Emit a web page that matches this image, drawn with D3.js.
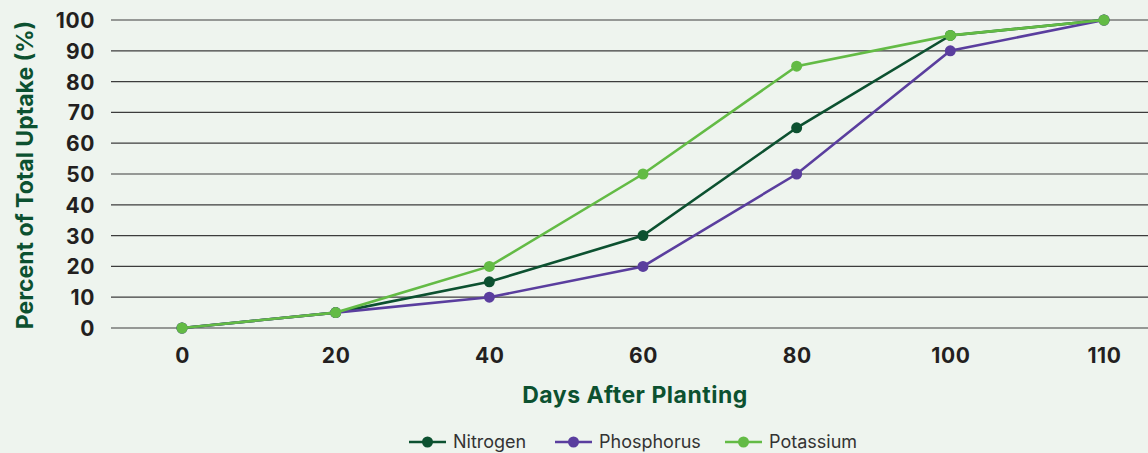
<!DOCTYPE html>
<html>
<head>
<meta charset="utf-8">
<script src="https://cdn.jsdelivr.net/npm/d3@7"></script>
<style>
  html, body { margin: 0; padding: 0; background: #eef4ee; }
  svg { display: block; font-family: Inter, "Noto Sans", sans-serif; }
</style>
</head>
<body>
<svg id="chart" width="1148" height="453"></svg>
<script>
// Nutrient uptake over the growing season (percent of total)
const days = ["0", "20", "40", "60", "80", "100", "110"];
const nitrogen = [0, 5, 15, 30, 65, 95, 100];
const phosphorus = [0, 5, 10, 20, 50, 90, 100];
const potassium = [0, 5, 20, 50, 85, 95, 100];
const yTicks = [0, 10, 20, 30, 40, 50, 60, 70, 80, 90, 100];

const series = [
  { name: "Nitrogen", values: nitrogen, color: "#0c5130" },
  { name: "Phosphorus", values: phosphorus, color: "#5a3e9e" },
  { name: "Potassium", values: potassium, color: "#63bb45" }
];

const svg = d3.select("#chart");
const W = 1148;

const x = d3.scalePoint().domain(days).range([182, 1104]);
const y = d3.scaleLinear().domain([0, 100]).range([328, 20]);

// horizontal gridlines
svg.append("g")
  .selectAll("line")
  .data(yTicks)
  .join("line")
  .attr("x1", 111).attr("x2", W)
  .attr("y1", d => y(d)).attr("y2", d => y(d))
  .attr("stroke", "#3c3c3c").attr("stroke-width", 1.2);

// y axis labels
const yAxis = svg.append("g")
  .attr("transform", "translate(95,0)")
  .call(d3.axisLeft(y).tickValues(yTicks).tickSize(0).tickPadding(0));
yAxis.select(".domain").remove();
yAxis.selectAll("text")
  .attr("font-family", "Inter, sans-serif")
  .attr("font-size", 21).attr("font-weight", 700)
  .attr("letter-spacing", 0.6)
  .attr("fill", "#231f20").attr("dy", "0.36em");

// x axis labels
const xAxis = svg.append("g")
  .attr("transform", "translate(0,348)")
  .call(d3.axisBottom(x).tickSize(0).tickPadding(0));
xAxis.select(".domain").remove();
xAxis.selectAll("text")
  .attr("font-family", "Inter, sans-serif")
  .attr("font-size", 21).attr("font-weight", 700)
  .attr("letter-spacing", 0.6)
  .attr("fill", "#231f20").attr("dy", "0.71em");

// axis titles
svg.append("text")
  .attr("x", 635).attr("y", 403)
  .attr("text-anchor", "middle")
  .attr("font-size", 23).attr("font-weight", 700)
  .attr("letter-spacing", 0.5)
  .attr("fill", "#0c5130")
  .text("Days After Planting");

svg.append("text")
  .attr("transform", "translate(33,175) rotate(-90)")
  .attr("text-anchor", "middle")
  .attr("font-size", 23).attr("font-weight", 700)
  .attr("fill", "#0c5130")
  .text("Percent of Total Uptake (%)");

// lines and markers
const line = d3.line().x((d, i) => x(days[i])).y(d => y(d));

const g = svg.append("g");
series.forEach(s => {
  g.append("path")
    .datum(s.values)
    .attr("d", line)
    .attr("fill", "none")
    .attr("stroke", s.color)
    .attr("stroke-width", 2.6);
  g.append("g")
    .selectAll("circle")
    .data(s.values)
    .join("circle")
    .attr("cx", (d, i) => x(days[i]))
    .attr("cy", d => y(d))
    .attr("r", 5.5)
    .attr("fill", s.color);
});

// legend
const legendX = [409, 555, 725];
const legend = svg.append("g").selectAll("g")
  .data(series)
  .join("g")
  .attr("transform", (d, i) => `translate(${legendX[i]},442)`);
legend.append("line")
  .attr("x1", 0).attr("x2", 37)
  .attr("stroke", d => d.color).attr("stroke-width", 2.6);
legend.append("circle")
  .attr("cx", 18.5).attr("r", 5.5)
  .attr("fill", d => d.color);
legend.append("text")
  .attr("x", 44).attr("dy", "0.36em")
  .attr("font-size", 18)
  .attr("fill", "#333")
  .text(d => d.name);
</script>
</body>
</html>
